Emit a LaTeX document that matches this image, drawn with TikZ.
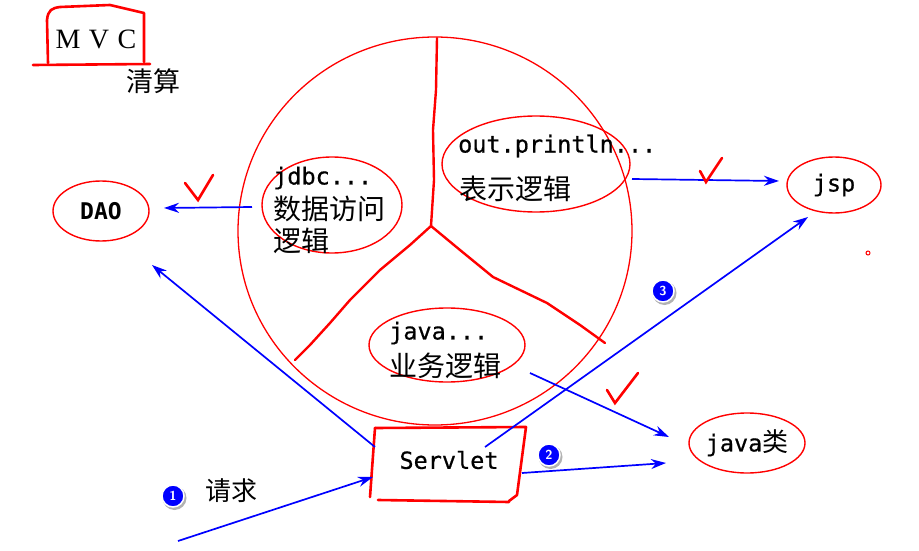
\documentclass[tikz,border=0pt]{standalone}
\usepackage{fontspec}
\setmainfont{Liberation Serif}
\newfontfamily\monof[FakeBold=0.6]{DejaVu Sans Mono}
\newfontfamily\monobf{DejaVu Sans Mono Bold}
\newfontfamily\cjkf{Noto Sans CJK SC}
\usetikzlibrary{arrows.meta,shapes.geometric}
\tikzset{
  ell/.style={draw=red, line width=1.4pt, ellipse, inner sep=0pt},
  hand/.style={draw=red, line width=2.6pt, line join=round, line cap=round},
  arr/.style={draw=blue, line width=1.7pt, -{Stealth[length=15pt,width=10pt]}},
  chk/.style={draw=red, line width=2.6pt, line join=miter, line cap=round},
  mono/.style={font=\monof\fontsize{23.5}{26}\selectfont, inner sep=0pt},
  monob/.style={font=\monobf\fontsize{23}{26}\selectfont, inner sep=0pt},
  cjk/.style={font=\cjkf\fontsize{28}{30}\selectfont, inner sep=0pt},
  num/.style={circle, fill=blue, draw=white, line width=1.5pt, minimum size=22pt, inner sep=0pt,
    text=white, font=\sffamily\bfseries\fontsize{13}{13}\selectfont}
}
\begin{document}
\begin{tikzpicture}[x=1pt,y=-1pt]
\useasboundingbox (0,0) rectangle (919,551);
% MVC label
\draw[hand] (48,63) -- (47,20) .. controls (48,10) and (52,8) .. (60,7) -- (110,5) -- (144,13) -- (144,62);
\draw[hand] (33,65) -- (150,64);
\node[font=\fontsize{28}{30}\selectfont, inner sep=0pt] (mvc) at (96,39) {M\hspace{0.3em}V\hspace{0.3em}C};
\node[cjk, font=\cjkf\fontsize{27}{28}\selectfont] (qs) at (153,81) {清算};
% big circle
\node[ell, line width=1.3pt, minimum width=394pt, minimum height=388pt] (big) at (435,231) {};
% divider
\coordinate (ctr) at (431,226);
\draw[hand, line width=2.4pt] (437,38) -- (436,90) -- (433,130) -- (434,180) -- (ctr);
\draw[hand, line width=2.4pt] (ctr) -- (410,245) -- (380,270) -- (350,300) -- (330,323) -- (310,345) -- (295,360);
\draw[hand, line width=2.4pt] (ctr) -- (460,250) -- (493,277) -- (547,303) -- (580,325) -- (605,343);
% inner ellipses
\node[ell, minimum width=140pt, minimum height=96pt] (jdbcE) at (332,205) {};
\node[mono, anchor=west] (t1) at (273,178) {jdbc...};
\node[cjk, anchor=west] (t2) at (273,209) {数据访问};
\node[cjk, anchor=west] (t3) at (273,241) {逻辑};
\node[ell, minimum width=188pt, minimum height=96pt] (outE) at (536,164) {};
\node[mono, anchor=west] (t4) at (458,146) {out.println...};
\node[cjk, anchor=west] (t5) at (459,189) {表示逻辑};
\node[ell, minimum width=156pt, minimum height=74pt] (javaE) at (447,345) {};
\node[mono, anchor=west] (t6) at (389,333) {java...};
\node[cjk, anchor=west] (t7) at (389,366) {业务逻辑};
% outer nodes
\node[ell, minimum width=96pt, minimum height=60pt] (dao) at (101,211) {};
\node[monob] at (dao) {DAO};
\node[ell, minimum width=94pt, minimum height=56pt] (jsp) at (834,185) {};
\node[mono] at (jsp) {jsp};
\node[ell, minimum width=116pt, minimum height=60pt] (jcls) at (747,443) {};
\node[inner sep=0pt] at (jcls) {{\monof\fontsize{23.5}{26}\selectfont java}{\cjkf\fontsize{26}{28}\selectfont 类}};
% Servlet box
\draw[hand] (375,428) -- (526,427) -- (517,495) -- (509,501);
\draw[hand] (378,500) -- (509,502);
\draw[hand] (375,428) -- (370,497);
\node[mono] (servlet) at (449,460) {Servlet};
% connector coordinates
\coordinate (a1s) at (252,207); \coordinate (a1e) at (164,208);
\coordinate (a2s) at (632,179); \coordinate (a2e) at (779,181);
\coordinate (a3s) at (375,447); \coordinate (a3e) at (152,265);
\coordinate (a4s) at (178,541); \coordinate (a4e) at (373,477);
\coordinate (a5s) at (485,447); \coordinate (a5e) at (808,217);
\coordinate (a6s) at (522,473); \coordinate (a6e) at (666,463);
\coordinate (a7s) at (530,373); \coordinate (a7e) at (669,437);
\draw[arr] (a1s) -- (a1e);
\draw[arr] (a2s) -- (a2e);
\draw[arr] (a3s) -- (a3e);
\draw[arr] (a4s) -- (a4e);
\draw[arr] (a5s) -- (a5e);
\draw[arr] (a6s) -- (a6e);
\draw[arr] (a7s) -- (a7e);
% checkmarks
\draw[chk] (185,183) -- (198,200) -- (213,175);
\draw[chk] (700,171) -- (706,182) -- (722,158);
\draw[chk] (607,390) -- (615,403) -- (638,373);
% numbers
\fill[gray!60] (174.5,498) circle (12pt);
\node[num] (n1) at (173,496) {1};
\fill[gray!60] (550.5,457) circle (12pt);
\node[num] (n2) at (549,455) {2};
\fill[gray!60] (664.5,293) circle (12pt);
\node[num] (n3) at (663,291) {3};
\node[cjk, font=\cjkf\fontsize{26}{28}\selectfont] (req) at (231,491) {请求};
% red dot
\draw[red, line width=1pt] (868,253) circle (2pt);
\end{tikzpicture}
\end{document}
